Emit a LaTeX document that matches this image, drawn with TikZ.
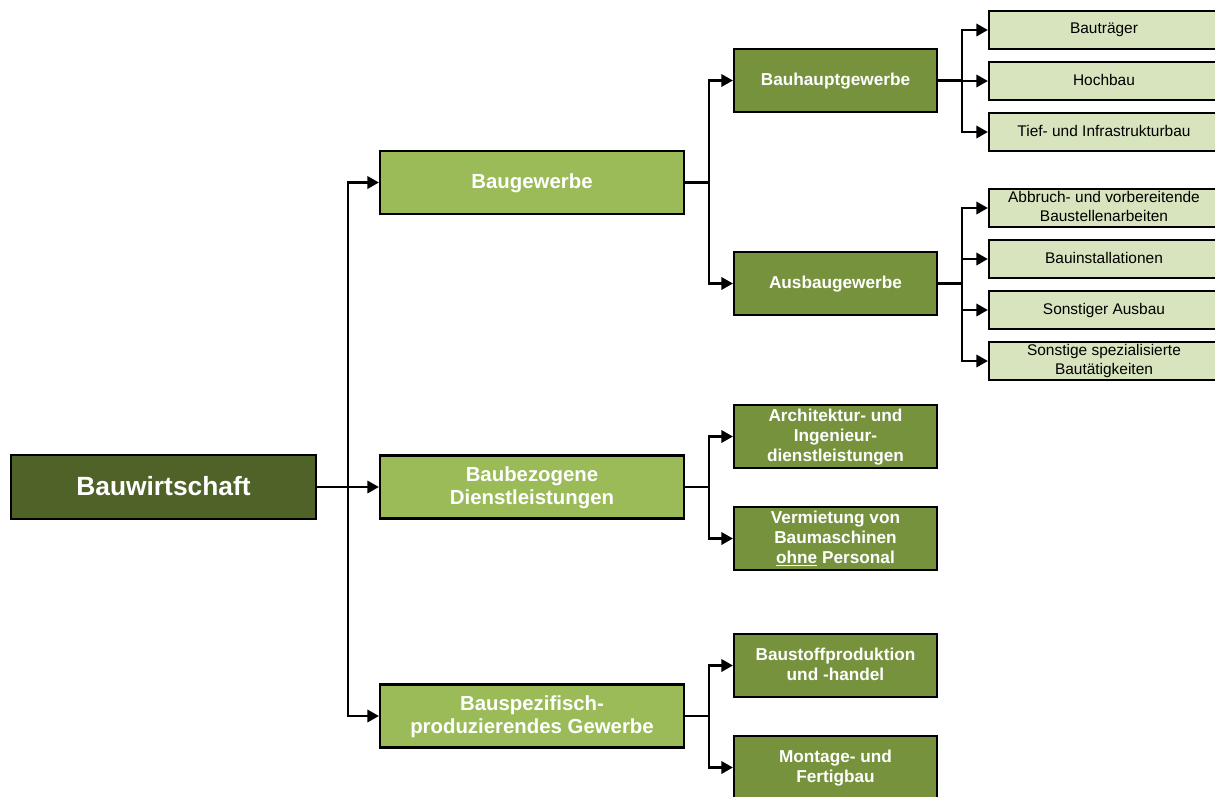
\documentclass[tikz,border=0pt]{standalone}
\usepackage{fontspec}
\setmainfont{Liberation Sans}
\usetikzlibrary{arrows.meta}
\definecolor{bwDark}{HTML}{4F6228}
\definecolor{bwLight}{HTML}{9BBB59}
\definecolor{bwMid}{HTML}{76923C}
\definecolor{bwPale}{HTML}{D7E4BD}
\tikzset{
    box/.style={draw=black, line width=1.3pt, inner sep=0pt, align=center, text depth=0.3ex},
    rootbox/.style={box, fill=bwDark, text=white, minimum width=6.1cm, minimum height=1.28cm,
        font=\fontsize{15}{18}\selectfont\bfseries},
    mainbox/.style={box, fill=bwLight, text=white, minimum width=6.08cm, minimum height=1.26cm,
        font=\fontsize{11.6}{13.6}\selectfont\bfseries},
    subbox/.style={box, fill=bwMid, text=white, minimum width=4.06cm, minimum height=1.26cm,
        font=\fontsize{9.8}{11.3}\selectfont\bfseries},
    leafbox/.style={box, fill=bwPale, text=black, minimum width=4.6cm, minimum height=0.76cm,
        font=\fontsize{8.8}{10.6}\selectfont},
}

\begin{document}
\begin{tikzpicture}[x=0.02cm, y=-0.02cm,
    line/.style={line width=1.3pt},
    conn/.style={line, -{Triangle[length=6.5pt,width=7pt]}}]
    \useasboundingbox (0,0) rectangle (1215,796);

    % level 1 and 2
    \node[rootbox] (bw) at (163.5,487) {Bauwirtschaft};
    \node[mainbox] (bg) at (532,182.5) {Baugewerbe};
    \node[mainbox] (bd) at (532,487) {Baubezogene\\Dienstleistungen};
    \node[mainbox] (bp) at (532,716) {Bauspezifisch-\\produzierendes Gewerbe};

    % level 3
    \node[subbox] (bh) at (835.5,80.5) {Bauhauptgewerbe};
    \node[subbox] (ab) at (835.5,283.5) {Ausbaugewerbe};
    \node[subbox] (ai) at (835.5,436.5) {Architektur- und\\Ingenieur-\\dienstleistungen};
    \node[subbox] (vm) at (835.5,538.5) {Vermietung von\\Baumaschinen\\\underline{ohne} Personal};
    \node[subbox] (bs) at (835.5,665.5) {Baustoffproduktion\\und -handel};
    \node[subbox] (mf) at (835.5,767.5) {Montage- und\\Fertigbau};

    % level 4
    \node[leafbox] (bt) at (1104,30) {Bauträger};
    \node[leafbox] (hb) at (1104,81) {Hochbau};
    \node[leafbox] (ti) at (1104,132) {Tief- und Infrastrukturbau};
    \node[leafbox] (av) at (1104,208) {Abbruch- und vorbereitende\\Baustellenarbeiten};
    \node[leafbox] (bi) at (1104,259) {Bauinstallationen};
    \node[leafbox] (sa) at (1104,310) {Sonstiger Ausbau};
    \node[leafbox] (st) at (1104,361) {Sonstige spezialisierte\\Bautätigkeiten};

    % forks
    \coordinate (f0) at (348,487);
    \coordinate (fbg) at (709,182.5);
    \coordinate (fbd) at (709,487);
    \coordinate (fbp) at (709,716);
    \coordinate (fbh) at (962,80.5);
    \coordinate (fab) at (962,283.5);

    \draw[line] (bw.east) -- (f0);
    \foreach \n in {bg, bd, bp}
        \draw[conn] (f0) |- (\n.west);
    \foreach \p/\c in {bg/bh, bg/ab, bd/ai, bd/vm, bp/bs, bp/mf, bh/bt, bh/hb, bh/ti, ab/av, ab/bi, ab/sa, ab/st} {
        \draw[line] (\p.east) -- (f\p);
        \draw[conn] (f\p) |- (\c.west);
    }
\end{tikzpicture}
\end{document}
